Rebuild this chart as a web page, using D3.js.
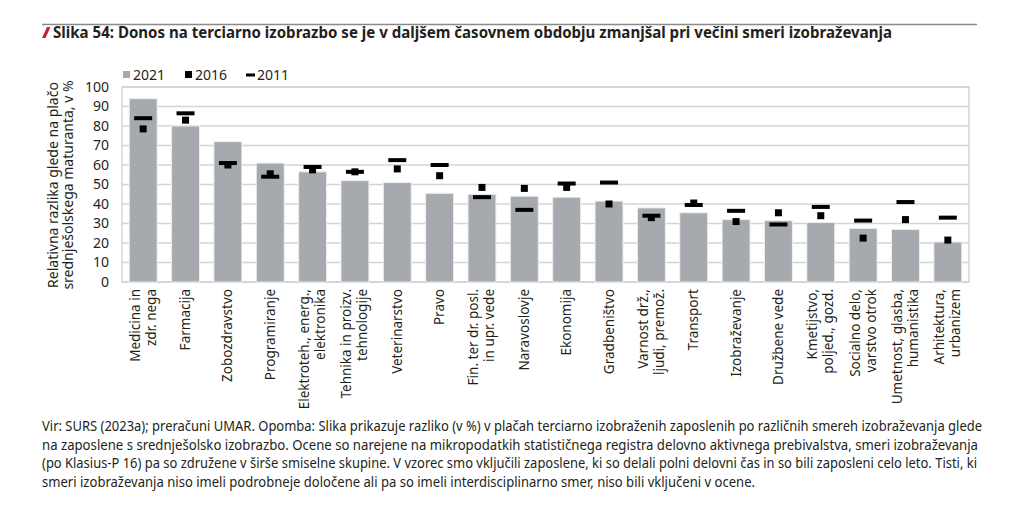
<!DOCTYPE html>
<html>
<head>
<meta charset="UTF-8">
<title>Slika 54</title>
<script src="https://cdn.jsdelivr.net/npm/d3@7"></script>
<style>
  body { margin: 0; background: #fff; }
  text { font-family: "Noto Sans", "Open Sans", sans-serif; fill: #231f20; }
</style>
</head>
<body>
<svg width="1024" height="530"></svg>
<script>
// podatki
var categories = [
  ["Medicina in", "zdr. nega"], ["Farmacija"], ["Zobozdravstvo"], ["Programiranje"],
  ["Elektroteh., energ.,", "elektronika"], ["Tehnika in proizv.", "tehnologije"], ["Veterinarstvo"],
  ["Pravo"], ["Fin. ter dr. posl.", "in upr. vede"], ["Naravoslovje"], ["Ekonomija"],
  ["Gradbeništvo"], ["Varnost drž.,", "ljudi, premož."], ["Transport"], ["Izobraževanje"],
  ["Družbene vede"], ["Kmetijstvo,", "poljed., gozd."], ["Socialno delo,", "varstvo otrok"],
  ["Umetnost, glasba,", "humanistika"], ["Arhitektura,", "urbanizem"]
];
var v2021 = [94, 80, 72, 61, 56.5, 52, 51, 45.5, 45, 44, 43.5, 41.5, 38, 35.5, 32, 31.5, 30.5, 27.5, 27, 20.5];
var v2016 = [78.5, 83, 60, 55.5, 57.5, 56.5, 58, 54.5, 48.5, 48, 48.5, 40, 33, 40.5, 31, 35.5, 34, 22.5, 32, 21.5];
var v2011 = [84, 86.5, 61, 54, 59, 56.5, 62.5, 60, 43.5, 37, 50.5, 51, 34, 39.5, 36.5, 29.5, 38.5, 31.5, 41, 33];
var yTicks = [0, 10, 20, 30, 40, 50, 60, 70, 80, 90, 100];
var legendItems = ["2021", "2016", "2011"];

var title = "Slika 54: Donos na terciarno izobrazbo se je v daljšem časovnem obdobju zmanjšal pri večini smeri izobraževanja";
var yLabel = ["Relativna razlika glede na plačo", "srednješolskega maturanta, v %"];
var notes = [
  "Vir: SURS (2023a); preračuni UMAR.  Opomba: Slika prikazuje razliko (v %) v plačah terciarno izobraženih zaposlenih po različnih smereh izobraževanja glede",
  "na zaposlene s srednješolsko izobrazbo. Ocene so narejene na mikropodatkih statističnega registra delovno aktivnega prebivalstva, smeri izobraževanja",
  "(po Klasius-P 16) pa so združene v širše smiselne skupine. V vzorec smo vključili zaposlene, ki so delali polni delovni čas in so bili zaposleni celo leto. Tisti, ki",
  "smeri izobraževanja niso imeli podrobneje določene ali pa so imeli interdisciplinarno smer, niso bili vključeni v ocene."
];
var noteWidths = [940, 936, 935, 713];

var svg = d3.select("svg");
var plot = {left: 122, right: 969, top: 87, bottom: 282};
var idx = d3.range(categories.length);

var x = d3.scaleBand().domain(idx).range([plot.left, plot.right])
  .paddingInner(0.34).paddingOuter(0.17);
var y = d3.scaleLinear().domain([0, 100]).range([plot.bottom, plot.top]);

// naslov
svg.append("line").attr("x1", 42).attr("x2", 977).attr("y1", 24.5).attr("y2", 24.5)
  .attr("stroke", "#8a8a8a").attr("stroke-width", 1.5);
svg.append("path").attr("d", "M42,38 L47,27 L50.5,27 L45.5,38 Z").attr("fill", "#c1203b");
svg.append("text").attr("x", 53).attr("y", 38)
  .attr("font-size", 15.5).attr("font-weight", "bold")
  .attr("textLength", 839).attr("lengthAdjust", "spacingAndGlyphs")
  .text(title);

// mreža
svg.append("g").selectAll("line").data(yTicks).enter().append("line")
  .attr("x1", plot.left).attr("x2", plot.right)
  .attr("y1", function(d){ return y(d); }).attr("y2", function(d){ return y(d); })
  .attr("stroke", "#d4d4d4").attr("stroke-width", 1.3);
svg.append("rect").attr("x", plot.left).attr("y", plot.top)
  .attr("width", plot.right - plot.left).attr("height", plot.bottom - plot.top)
  .attr("fill", "none").attr("stroke", "#cfcfcf").attr("stroke-width", 1.3);

// os y
var yAxis = svg.append("g").attr("transform", "translate(" + plot.left + ",0)")
  .call(d3.axisLeft(y).tickValues(yTicks).tickSize(0).tickPadding(13));
yAxis.select(".domain").remove();
yAxis.selectAll("text").attr("font-size", 14).attr("font-family", "Noto Sans").attr("fill", "#231f20");

svg.append("text").attr("transform", "translate(58,185) rotate(-90)")
  .attr("text-anchor", "middle").attr("font-size", 14)
  .selectAll("tspan").data(yLabel).enter().append("tspan")
  .attr("x", 0).attr("dy", function(d, i){ return i ? 15 : 0; })
  .text(function(d){ return d; });

// stolpci 2021
svg.append("g").selectAll("rect").data(v2021).enter().append("rect")
  .attr("x", function(d, i){ return x(i); })
  .attr("width", x.bandwidth())
  .attr("y", function(d){ return y(d); })
  .attr("height", function(d){ return y(0) - y(d); })
  .attr("fill", "#a6aaaf").attr("stroke", "#eceef0").attr("stroke-width", 1);

// 2016 kvadratki
svg.append("g").selectAll("rect").data(v2016).enter().append("rect")
  .attr("x", function(d, i){ return x(i) + x.bandwidth() / 2 - 3.5; })
  .attr("y", function(d){ return y(d) - 3.5; })
  .attr("width", 7).attr("height", 7).attr("fill", "#000");

// 2011 črtice
svg.append("g").selectAll("rect").data(v2011).enter().append("rect")
  .attr("x", function(d, i){ return x(i) + x.bandwidth() / 2 - 9; })
  .attr("y", function(d){ return y(d) - 2; })
  .attr("width", 18).attr("height", 4).attr("fill", "#000");

// oznake kategorij
var lab = svg.append("g").selectAll("text").data(categories).enter().append("text")
  .attr("transform", function(d, i){
    return "translate(" + (x(i) + x.bandwidth() / 2) + ",289) rotate(-90)";
  })
  .attr("text-anchor", "end").attr("font-size", 13.5);
lab.selectAll("tspan").data(function(d){ return d; }).enter().append("tspan")
  .attr("x", 0)
  .attr("y", function(d, i, nodes){
    var n = nodes.length;
    return (i - (n - 1) / 2) * 16 + 4.5;
  })
  .text(function(d){ return d; });

// legenda
var lg = svg.append("g").attr("font-size", 14);
lg.append("rect").attr("x", 123).attr("y", 71).attr("width", 7).attr("height", 7).attr("fill", "#a6aaaf");
lg.append("rect").attr("x", 185).attr("y", 71).attr("width", 7).attr("height", 7).attr("fill", "#000");
lg.append("rect").attr("x", 246).attr("y", 73.5).attr("width", 9).attr("height", 3).attr("fill", "#000");
lg.selectAll("text").data(legendItems).enter().append("text")
  .attr("x", function(d, i){ return [133, 195, 257][i]; })
  .attr("y", 80).text(function(d){ return d; });

// opomba
svg.append("g").selectAll("text").data(notes).enter().append("text")
  .attr("x", 42).attr("y", function(d, i){ return 431 + i * 18.5; })
  .attr("font-size", 13.5)
  .attr("textLength", function(d, i){ return noteWidths[i]; })
  .attr("lengthAdjust", "spacingAndGlyphs")
  .text(function(d){ return d; });
</script>
</body>
</html>
